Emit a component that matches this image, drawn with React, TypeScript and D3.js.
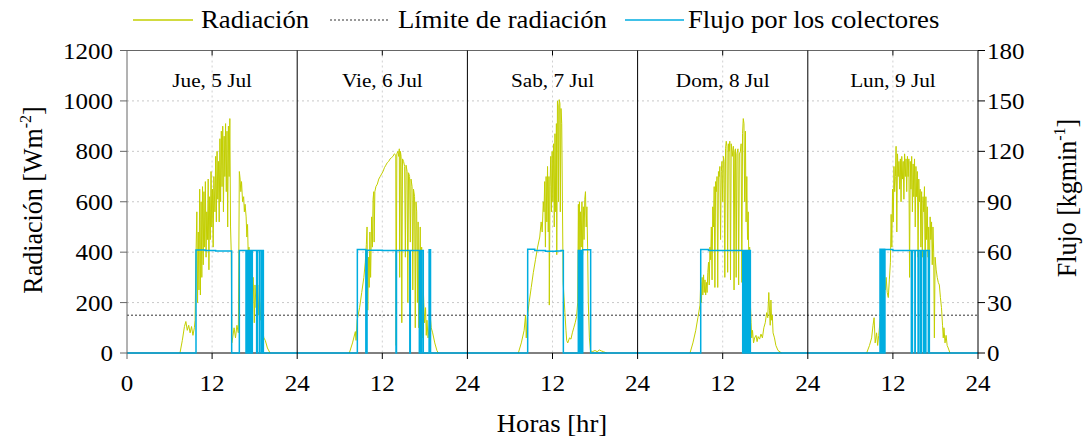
import React from 'react';
import * as d3 from 'd3';

const W = 1084;
const H = 438;

const days = ['Jue, 5 Jul', 'Vie, 6 Jul', 'Sab, 7 Jul', 'Dom, 8 Jul', 'Lun, 9 Jul'];
const hourTicks = [0, 12, 24];
const radTicks = [0, 200, 400, 600, 800, 1000, 1200];
const flowTicks = [0, 30, 60, 90, 120, 150, 180];
const radGrid = [200, 400, 600, 800, 1000];
const radLimit = 150;

type P = [number, number];

const rad1: P[] = [[7.47,0],[7.8,50],[8.1,105],[8.3,125],[8.5,90],[8.7,110],[8.9,80],[9.1,105],[9.3,70],[9.5,100],[9.6,130],[9.75,420],[9.85,560],[9.95,200],[10.05,480],[10.15,250],[10.25,650],[10.35,230],[10.45,600],[10.55,300],[10.65,660],[10.75,350],[10.85,640],[10.95,420],[11.05,680],[11.15,380],[11.25,560],[11.35,450],[11.45,690],[11.55,330],[11.65,620],[11.75,450],[11.85,720],[11.95,500],[12.05,650],[12.15,420],[12.25,700],[12.4,560],[12.5,780],[12.6,520],[12.7,800],[12.8,610],[12.9,760],[13.0,520],[13.1,850],[13.2,600],[13.3,880],[13.4,660],[13.5,900],[13.6,560],[13.7,860],[13.8,700],[13.9,910],[14.0,640],[14.1,880],[14.2,500],[14.3,900],[14.4,700],[14.5,930],[14.6,500],[14.7,400],[14.78,40],[14.9,60],[15.1,100],[15.3,60],[15.5,110],[15.7,80],[15.84,720],[15.95,690],[16.05,640],[16.15,680],[16.3,600],[16.45,620],[16.55,560],[16.65,590],[16.8,540],[16.9,460],[17.0,510],[17.1,380],[17.2,420],[17.35,290],[17.5,400],[17.6,250],[17.8,300],[17.95,120],[18.05,270],[18.2,180],[18.35,240],[18.5,150],[18.65,270],[18.8,130],[18.95,200],[19.1,90],[19.3,60],[19.5,50],[19.8,20],[20.17,0]];

const rad2: P[] = [[7.35,0],[7.8,40],[8.2,85],[8.3,50],[8.45,130],[8.8,180],[9.1,240],[9.4,300],[9.6,360],[9.75,430],[9.85,500],[9.95,170],[10.05,380],[10.15,260],[10.25,480],[10.35,300],[10.5,540],[10.6,420],[10.7,610],[10.8,640],[10.85,440],[10.95,640],[11.1,660],[11.3,670],[11.5,690],[11.7,700],[11.9,710],[12.1,720],[12.3,735],[12.5,745],[12.7,755],[12.9,760],[13.1,770],[13.3,775],[13.5,780],[13.7,790],[13.9,785],[13.95,30],[14.05,790],[14.2,800],[14.3,780],[14.4,810],[14.45,300],[14.55,800],[14.65,780],[14.75,120],[14.85,770],[15.0,760],[15.15,740],[15.25,380],[15.35,745],[15.5,720],[15.6,200],[15.7,715],[15.85,700],[15.95,440],[16.05,690],[16.2,660],[16.3,250],[16.4,650],[16.55,620],[16.65,100],[16.75,600],[16.85,560],[16.95,200],[17.05,520],[17.15,100],[17.25,290],[17.35,500],[17.45,160],[17.55,420],[17.65,60],[17.8,240],[17.95,120],[18.1,180],[18.2,70],[18.3,130],[18.45,60],[18.6,100],[18.75,150],[18.9,100],[19.1,80],[19.4,40],[19.7,10],[19.9,0]];

const rad3: P[] = [[7.18,0],[7.6,40],[8.0,90],[8.2,150],[8.3,60],[8.45,140],[8.7,200],[9.0,260],[9.3,320],[9.6,370],[9.9,420],[10.2,460],[10.4,520],[10.55,480],[10.7,600],[10.8,560],[10.9,680],[11.0,420],[11.1,700],[11.2,520],[11.3,740],[11.4,480],[11.5,700],[11.55,190],[11.65,660],[11.75,780],[11.85,560],[11.95,800],[12.05,600],[12.15,830],[12.25,500],[12.35,870],[12.45,560],[12.55,910],[12.6,390],[12.7,1000],[12.8,980],[12.85,600],[12.95,1005],[13.05,990],[13.1,560],[13.2,970],[13.3,910],[13.4,600],[13.5,280],[13.6,230],[13.75,160],[13.9,90],[14.0,50],[14.15,40],[14.4,60],[14.6,55],[14.8,80],[15.0,100],[15.2,120],[15.4,145],[15.55,200],[15.65,590],[15.72,400],[15.8,600],[15.88,380],[15.95,560],[16.05,420],[16.15,600],[16.25,390],[16.35,580],[16.45,450],[16.55,610],[16.65,640],[16.75,500],[16.85,580],[16.95,420],[17.05,200],[17.2,60],[17.35,10],[17.6,5],[18.0,10],[18.3,5],[18.6,12],[18.9,8],[19.2,5],[19.64,0]];

const rad4: P[] = [[7.39,0],[7.8,40],[8.2,90],[8.5,140],[8.8,190],[8.9,280],[9.0,200],[9.1,300],[9.2,230],[9.3,310],[9.4,240],[9.5,290],[9.6,230],[9.7,280],[9.8,240],[9.9,320],[10.0,360],[10.1,270],[10.2,420],[10.3,370],[10.4,500],[10.5,290],[10.6,580],[10.7,500],[10.8,660],[10.9,260],[11.0,680],[11.1,640],[11.2,700],[11.3,260],[11.4,720],[11.5,700],[11.6,740],[11.7,450],[11.8,720],[11.9,760],[12.0,600],[12.1,780],[12.2,760],[12.3,300],[12.4,810],[12.5,840],[12.6,820],[12.7,320],[12.8,830],[12.9,800],[13.0,840],[13.1,290],[13.2,830],[13.35,780],[13.5,820],[13.6,250],[13.7,800],[13.8,810],[13.9,300],[14.0,790],[14.15,810],[14.25,270],[14.35,790],[14.5,800],[14.6,830],[14.7,280],[14.8,870],[14.9,930],[15.0,910],[15.1,600],[15.2,880],[15.3,520],[15.4,700],[15.5,450],[15.6,560],[15.7,300],[15.8,420],[15.9,200],[16.0,120],[16.1,60],[16.2,90],[16.35,40],[16.5,60],[16.7,70],[16.85,45],[17.0,65],[17.2,55],[17.4,75],[17.6,60],[17.8,100],[18.0,120],[18.2,160],[18.35,140],[18.5,240],[18.6,170],[18.7,110],[18.8,210],[18.9,130],[19.0,150],[19.1,80],[19.3,60],[19.5,30],[19.8,10],[20.3,0]];

const rad5: P[] = [[8.3,0],[8.7,30],[9.0,60],[9.2,110],[9.35,140],[9.5,40],[9.7,80],[9.85,30],[10.0,70],[10.2,130],[10.4,170],[10.6,210],[10.8,280],[10.95,250],[11.05,300],[11.2,240],[11.35,220],[11.5,290],[11.65,360],[11.75,550],[11.85,420],[11.95,650],[12.05,520],[12.15,740],[12.25,640],[12.35,700],[12.45,820],[12.55,480],[12.65,790],[12.75,700],[12.85,760],[12.95,650],[13.05,770],[13.15,600],[13.25,780],[13.35,690],[13.45,760],[13.55,610],[13.65,790],[13.75,700],[13.85,770],[13.95,640],[14.05,780],[14.15,700],[14.25,770],[14.35,300],[14.45,760],[14.55,650],[14.65,780],[14.75,560],[14.85,750],[14.95,620],[15.05,770],[15.15,500],[15.25,740],[15.35,620],[15.45,720],[15.55,380],[15.65,690],[15.75,600],[15.85,650],[15.95,420],[16.05,640],[16.15,380],[16.25,620],[16.35,560],[16.45,660],[16.55,300],[16.65,620],[16.75,450],[16.85,580],[16.95,380],[17.05,500],[17.15,300],[17.25,540],[17.35,450],[17.45,520],[17.55,350],[17.65,500],[17.75,400],[17.85,60],[17.95,380],[18.1,330],[18.25,300],[18.4,280],[18.55,270],[18.7,220],[18.85,180],[19.0,110],[19.1,60],[19.2,100],[19.35,40],[19.5,70],[19.65,30],[19.8,20],[20.05,0]];

const flow1: P[] = [[0,0],[9.73,61.3],[11,61],[12.5,60.7],[14.76,0],[15.84,61],[16.78,0],[16.97,61],[17.15,0],[17.34,61],[17.48,0],[17.67,61],[18.28,0],[18.37,61],[18.66,0],[18.75,61],[18.99,0],[19.09,61],[19.23,0],[24,0]];

const flow2: P[] = [[0,0],[8.48,61.6],[9.68,0],[9.85,61.2],[12,61],[13.93,0],[14.0,61],[15.88,0],[15.95,61],[17.22,0],[17.3,61],[17.45,0],[17.55,61],[17.78,0],[18.6,61.5],[18.64,0],[18.68,61.5],[18.72,0],[18.76,61.5],[18.8,0],[24,0]];

const flow3: P[] = [[0,0],[8.5,61.8],[9.5,61],[11,60.6],[12.5,60.7],[13.2,61],[13.53,0],[15.64,61],[15.68,0],[15.72,61],[15.76,0],[15.8,61],[15.84,0],[15.88,61],[15.92,0],[15.96,61],[16.0,0],[16.04,61],[16.08,0],[16.12,61],[16.16,0],[16.2,61],[16.24,0],[16.26,61.5],[17.38,0],[24,0]];

const flow4: P[] = [[0,0],[8.9,61.6],[10,61],[14.82,0],[14.88,61],[14.94,0],[15.0,61],[15.06,0],[15.12,61],[15.18,0],[15.24,61],[15.3,0],[15.36,61],[15.42,0],[15.48,61],[15.54,0],[15.6,61],[15.66,0],[15.72,61],[15.78,0],[15.84,61],[15.9,0],[24,0]];

const flow5: P[] = [[0,0],[10.18,61.8],[10.24,0],[10.28,61.8],[10.34,0],[10.38,61.8],[10.44,0],[10.48,61.8],[10.54,0],[10.58,61.8],[10.64,0],[10.68,61.8],[10.74,0],[10.78,61.8],[10.84,0],[10.88,61.6],[12,61],[14.6,0],[14.65,61],[14.7,0],[14.75,61],[15.1,0],[15.15,61],[15.55,0],[15.6,61],[15.85,0],[15.9,61],[15.95,0],[16.0,61],[16.3,0],[16.35,61],[16.45,0],[16.5,61],[16.6,0],[16.65,61],[17.0,0],[17.05,61],[17.14,0],[24,0]];

const radiation = [rad1, rad2, rad3, rad4, rad5];
const flows = [flow1, flow2, flow3, flow4, flow5];

const YELLOW = '#c3cf00';
const BLUE = '#00ade0';
const FONT = '"Liberation Serif", "Times New Roman", serif';
const SX = 1.09;

const plotL = 127;
const plotR = 978;
const plotT = 50.5;
const plotB = 353;
const panelW = (plotR - plotL) / days.length;

const yL = d3.scaleLinear().domain([0, 1200]).range([plotB, plotT]);
const yR = d3.scaleLinear().domain([0, 180]).range([plotB, plotT]);

function T(props: { x: number; y: number; size: number; anchor?: string; rot?: boolean; children: React.ReactNode }) {
  const { x, y, size, anchor = 'start', rot = false, children } = props;
  return (
    <text
      transform={`translate(${x},${y}) scale(${SX},1)${rot ? ' rotate(-90)' : ''}`}
      textAnchor={anchor}
      fontSize={size}
      fontFamily={FONT}
      fill="#000"
    >
      {children}
    </text>
  );
}

export default function App() {
  const panels = days.map((d, i) => {
    const x0 = plotL + i * panelW;
    const xs = d3.scaleLinear().domain([0, 24]).range([x0, x0 + panelW]);
    const radLine = d3.line<P>().x((p) => xs(p[0])).y((p) => yL(p[1]));
    const flowLine = d3.line<P>().curve(d3.curveStepAfter).x((p) => xs(p[0])).y((p) => yR(p[1]));
    return { d, i, x0, xs, radPath: radLine(radiation[i]) || '', flowPath: flowLine(flows[i]) || '' };
  });

  return (
    <svg width={W} height={H} style={{ position: 'absolute', left: 0, top: 0, background: '#fff' }}>
      <rect x={0} y={0} width={W} height={H} fill="#fff" />
      {radGrid.map((v) => (
        <line key={'g' + v} x1={plotL} x2={plotR} y1={yL(v)} y2={yL(v)} stroke="#c8c8c8" strokeWidth={1} strokeDasharray="2,3" />
      ))}
      {panels.map((p) => (
        <line key={'vg' + p.i} x1={p.xs(12)} x2={p.xs(12)} y1={plotT} y2={plotB} stroke="#d0d0d0" strokeWidth={1} strokeDasharray="2,3" />
      ))}
      <line x1={plotL} x2={plotR} y1={yL(radLimit)} y2={yL(radLimit)} stroke="#333" strokeWidth={1} strokeDasharray="2,2" />
      {panels.map((p) => (
        <path key={'r' + p.i} d={p.radPath} fill="none" stroke={YELLOW} strokeWidth={1} strokeLinejoin="round" />
      ))}
      <line x1={plotL} x2={plotR} y1={plotB} y2={plotB} stroke="#000" strokeWidth={1} />
      {panels.map((p) => (
        <path key={'f' + p.i} d={p.flowPath} fill="none" stroke={BLUE} strokeWidth={1.5} />
      ))}
      <line x1={plotL} x2={plotR} y1={plotT} y2={plotT} stroke="#666" strokeWidth={1} />
      <line x1={plotL} x2={plotL} y1={plotT} y2={plotB + 6} stroke="#666" strokeWidth={1} />
      <line x1={plotR} x2={plotR} y1={plotT} y2={plotB + 6} stroke="#000" strokeWidth={1} />
      {panels.slice(1).map((p) => (
        <line key={'div' + p.i} x1={p.x0} x2={p.x0} y1={plotT} y2={plotB + 6} stroke="#000" strokeWidth={1} />
      ))}
      {panels.map((p) => (
        <g key={'xt' + p.i}>
          <line x1={p.xs(12)} x2={p.xs(12)} y1={plotB} y2={plotB + 6} stroke="#000" strokeWidth={1} />
          <line x1={p.xs(12)} x2={p.xs(12)} y1={plotT} y2={plotT + 5} stroke="#000" strokeWidth={1} />
        </g>
      ))}
      {panels.map((p) =>
        hourTicks
          .filter((h) => !(h === 0 && p.i > 0))
          .map((h) => (
            <T key={'xl' + p.i + h} x={p.xs(h)} y={391} size={23} anchor="middle">
              {String(h)}
            </T>
          ))
      )}
      {radTicks.map((v) => (
        <g key={'lt' + v}>
          <line x1={plotL - 7} x2={plotL} y1={yL(v)} y2={yL(v)} stroke="#666" strokeWidth={1} />
          <T x={plotL - 14} y={yL(v) + 8} size={23} anchor="end">
            {String(v)}
          </T>
        </g>
      ))}
      {flowTicks.map((v) => (
        <g key={'rt' + v}>
          <line x1={plotR} x2={plotR + 7} y1={yR(v)} y2={yR(v)} stroke="#000" strokeWidth={1} />
          <T x={plotR + 9} y={yR(v) + 8} size={23} anchor="start">
            {String(v)}
          </T>
        </g>
      ))}
      {panels.map((p) => (
        <T key={'pt' + p.i} x={p.xs(12)} y={87} size={19.5} anchor="middle">
          {p.d}
        </T>
      ))}
      <T x={42} y={200} size={26} anchor="middle" rot>
        Radiación [Wm<tspan dy={-10} fontSize={16}>-2</tspan><tspan dy={10}>]</tspan>
      </T>
      <T x={1076} y={198} size={26} anchor="middle" rot>
        Flujo [kgmin<tspan dy={-10} fontSize={16}>-1</tspan><tspan dy={10}>]</tspan>
      </T>
      <T x={552} y={432} size={24.5} anchor="middle">
        Horas [hr]
      </T>
      <line x1={133} x2={193} y1={20} y2={20} stroke={YELLOW} strokeWidth={1.5} />
      <T x={201} y={28} size={24.5}>Radiación</T>
      <line x1={330} x2={390} y1={20} y2={20} stroke="#333" strokeWidth={1} strokeDasharray="2,2" />
      <T x={398} y={28} size={24.5}>Límite de radiación</T>
      <line x1={625} x2={684} y1={20} y2={20} stroke={BLUE} strokeWidth={1.5} />
      <T x={688} y={28} size={24.5}>Flujo por los colectores</T>
    </svg>
  );
}
